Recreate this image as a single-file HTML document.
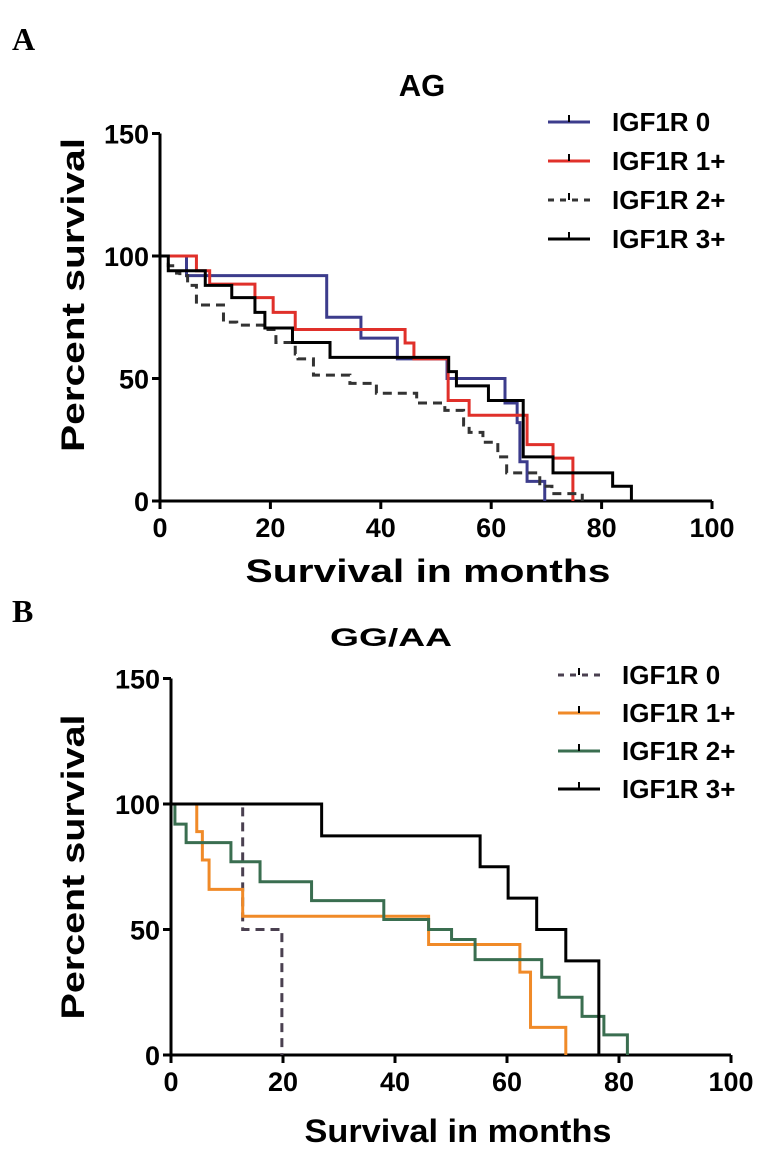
<!DOCTYPE html>
<html><head><meta charset="utf-8">
<style>
body{margin:0;background:#fff;}
svg{display:block;font-family:"Liberation Sans",Arial,sans-serif;font-weight:bold;}
</style></head>
<body>
<svg id="fig" width="780" height="1166" viewBox="0 0 780 1166" xmlns="http://www.w3.org/2000/svg">
<text x="12" y="50" font-family="Liberation Serif,serif" font-size="32">A</text>
<text x="12" y="622" font-family="Liberation Serif,serif" font-size="32">B</text>
<text x="422" y="96" font-size="31" text-anchor="middle">AG</text>
<text x="391" y="646" font-size="25" text-anchor="middle" textLength="122" lengthAdjust="spacingAndGlyphs">GG/AA</text>
<g id="pa"></g>
<g id="pb"></g>
</svg>
<script>
// Panel A (AG) data
const aTicksX = [0, 20, 40, 60, 80, 100];
const aTicksY = [0, 50, 100, 150];
const aLabels = ["IGF1R 0", "IGF1R 1+", "IGF1R 2+", "IGF1R 3+"];
const aT0 = [0, 4.8, 30.2, 36.4, 43, 52, 62.5, 64.7, 65.2, 66.5, 69.7];
const aS0 = [100, 92, 75, 66.5, 58, 50, 40, 32, 16, 8, 0];
const aT1 = [0, 6.6, 9, 17.2, 20.5, 24.5, 44.4, 46, 52.2, 56, 66.5, 71.2, 74.8];
const aS1 = [100, 94, 88.5, 83, 77, 70, 64.5, 58, 41, 35, 23, 17.5, 0];
const aT2 = [0, 1.5, 3, 3.6, 5, 6.6, 11.5, 13.9, 18.7, 21, 24.5, 25, 27.8, 34.4, 39.2, 46.5, 51.6, 55, 56, 58.5, 61.2, 62.8, 68.8, 71, 76.5];
const aS2 = [100, 96, 93, 92, 88, 80, 73, 71.8, 70, 64.7, 60, 58, 51.4, 48, 44, 40, 37, 31, 28, 24, 18, 11.5, 6, 3, 0];
const aT3 = [0, 1.5, 8.2, 13, 17.2, 19, 24, 30.8, 52.3, 53.7, 59.5, 65.8, 71.2, 82, 85.4];
const aS3 = [100, 94, 88, 83, 77, 70.6, 64.7, 58.6, 52.8, 47, 41, 18, 11.5, 6, 0];
// Panel B (GG/AA) data
const bTicksX = [0, 20, 40, 60, 80, 100];
const bTicksY = [0, 50, 100, 150];
const bLabels = ["IGF1R 0", "IGF1R 1+", "IGF1R 2+", "IGF1R 3+"];
const bT0 = [0, 12.8, 19.8];
const bS0 = [100, 50, 0];
const bT1 = [0, 4.6, 5.6, 6.8, 12.8, 46, 62.3, 64.2, 70.5];
const bS1 = [100, 89, 77.7, 66, 55.3, 44, 33, 11, 0];
const bT2 = [0, 0.7, 2.7, 10.7, 15.9, 25.1, 38, 46, 50.1, 54.3, 66.2, 69.3, 73.4, 77.3, 81.5];
const bS2 = [100, 92, 84.6, 77, 69, 61.5, 54, 50, 46, 38, 31, 23, 15.4, 8, 0];
const bT3 = [0, 26.9, 55.2, 60.2, 65.3, 70.5, 76.4];
const bS3 = [100, 87.3, 75, 62.5, 50, 37.5, 0];

const NS = "http://www.w3.org/2000/svg";
function mk(tag, attrs, parent) {
  const e = document.createElementNS(NS, tag);
  for (const k in attrs) e.setAttribute(k, attrs[k]);
  parent.appendChild(e);
  return e;
}
function panel(g, cfg) {
  const sx = v => cfg.x0 + v * cfg.kx;
  const sy = v => cfg.y0 - v * cfg.ky;
  const ax = mk("line", {x1: cfg.x0, y1: sy(0), x2: sx(100), y2: sy(0), stroke: "#000", "stroke-width": 3}, g);
  
  
  const ay = mk("line", {x1: cfg.x0, y1: sy(0) + 1.5, x2: cfg.x0, y2: sy(150), stroke: "#000", "stroke-width": 3}, g);
  
  
  cfg.tx.forEach(v => {
    mk("line", {x1: sx(v), y1: sy(0), x2: sx(v), y2: sy(0) + 8, stroke: "#000", "stroke-width": 3}, g);
    const t = mk("text", {x: sx(v), y: sy(0) + 36, "font-size": 27, "text-anchor": "middle"}, g);
    t.textContent = v;
    
    
  });
  cfg.ty.forEach(v => {
    mk("line", {x1: cfg.x0 - 8, y1: sy(v), x2: cfg.x0, y2: sy(v), stroke: "#000", "stroke-width": 3}, g);
    const t = mk("text", {x: cfg.x0 - 11, y: sy(v) + 10, "font-size": 27, "text-anchor": "end"}, g);
    t.textContent = v;
    
    
  });
  const xl = mk("text", {x: cfg.xlx, y: cfg.xly, "font-size": 32, "text-anchor": "middle", textLength: cfg.xlw, lengthAdjust: "spacingAndGlyphs"}, g);
  xl.textContent = "Survival in months";
  
  
  const yl = mk("text", {x: 0, y: 0, "font-size": 32, "text-anchor": "middle", textLength: cfg.ylw, lengthAdjust: "spacingAndGlyphs", transform: `translate(${cfg.ylx},${cfg.yly}) rotate(-90)`}, g);
  yl.textContent = "Percent survival";
  
  
  cfg.series.forEach((s, i) => {
    let d = `M${sx(s.t[0])},${sy(s.s[0])}`;
    for (let k = 1; k < s.t.length; k++) {
      d += ` H${sx(s.t[k])} V${sy(s.s[k])}`;
    }
    const p = mk("path", {d: d, fill: "none", stroke: s.c, "stroke-width": 3, "stroke-dasharray": s.dash ? "9,6" : "none"}, g);
    
    
    const ly = cfg.ly0 + i * cfg.ldy;
    const ll = mk("line", {x1: cfg.lx, y1: ly, x2: cfg.lx + 42, y2: ly, stroke: s.c, "stroke-width": 3, "stroke-dasharray": s.dash ? "6,6" : "none"}, g);
    
    
    mk("line", {x1: cfg.lx + 21, y1: ly - 7, x2: cfg.lx + 21, y2: ly, stroke: "#000", "stroke-width": 2}, g);
    const lt = mk("text", {x: cfg.lx + 64, y: ly + 9, "font-size": 26}, g);
    lt.textContent = cfg.labels[i];
    
    
  });
}
panel(document.getElementById("pa"), {
  x0: 160, y0: 501, kx: 5.52, ky: 2.45, tx: aTicksX, ty: aTicksY,
  xlx: 428, xly: 582, xlw: 365, ylx: 84, yly: 295, ylw: 314,
  lx: 548, ly0: 122, ldy: 39, labels: aLabels,
  series: [
    {t: aT0, s: aS0, c: "#3c3c8c"},
    {t: aT1, s: aS1, c: "#e0302a"},
    {t: aT2, s: aS2, c: "#333", dash: true},
    {t: aT3, s: aS3, c: "#000"}
  ]
});
panel(document.getElementById("pb"), {
  x0: 171, y0: 1055, kx: 5.6, ky: 2.51, tx: bTicksX, ty: bTicksY,
  xlx: 458, xly: 1142, xlw: 307, ylx: 84, yly: 867, ylw: 305,
  lx: 558, ly0: 675, ldy: 38, labels: bLabels,
  series: [
    {t: bT0, s: bS0, c: "#4a4050", dash: true},
    {t: bT1, s: bS1, c: "#f08a28"},
    {t: bT2, s: bS2, c: "#3a6e50"},
    {t: bT3, s: bS3, c: "#000"}
  ]
});
</script>
</body></html>
